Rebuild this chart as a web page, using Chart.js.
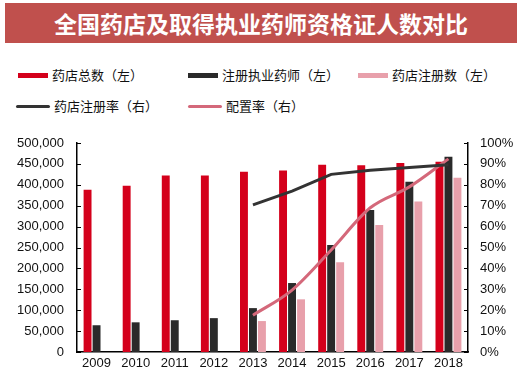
<!DOCTYPE html>
<html>
<head>
<meta charset="utf-8">
<script src="https://cdn.jsdelivr.net/npm/chart.js@4.4.1/dist/chart.umd.min.js"></script>
<style>
  body { margin: 0; width: 531px; height: 388px; background: #fff; position: relative; overflow: hidden; }
  #title {
    position: absolute; left: 5px; top: 3px; width: 512px; height: 40px;
    background: #c0504d; color: #fff; text-align: center; line-height: 40px;
    font-family: "Noto Sans CJK SC", sans-serif; font-weight: bold; font-size: 23px;
  }
  .item { position: absolute; font-family: "Noto Sans CJK SC", sans-serif; font-size: 13px; color: #111; line-height: 16px; }
  .sw { position: absolute; }
  canvas { position: absolute; left: 0; top: 0; }
</style>
</head>
<body>
<div id="title">全国药店及取得执业药师资格证人数对比</div>
<div id="legend"></div>
<canvas id="chart" width="531" height="388"></canvas>
<script>
const years = ["2009", "2010", "2011", "2012", "2013", "2014", "2015", "2016", "2017", "2018"];
const storeTotal = [388000, 398000, 422000, 422000, 431000, 434000, 448000, 447000, 452000, 455000];
const pharmacists = [64000, 71000, 76000, 81000, 105000, 165000, 256000, 340000, 407000, 467000];
const storeRegistered = [null, null, null, null, 74000, 126000, 215000, 304000, 360000, 417000];
const storeRegRate = [null, null, null, null, 70.4, 77, 85, 87, 88.3, 89.6];
const staffingRate = [null, null, null, null, 17.6, 29.6, 48.8, 69, 79, 92.4];

const leftTicks = [0, 50000, 100000, 150000, 200000, 250000, 300000, 350000, 400000, 450000, 500000];

const red = "#d4001b", dark = "#2a2a2a", pink = "#e8a0ab";
const darkLine = "#333333", pinkLine = "#d4687a";

// legend laid out like the original (two rows)
const legendItems = [
    { text: "药店总数（左）", color: red, kind: "bar", x: 18, y: 75 },
    { text: "注册执业药师（左）", color: dark, kind: "bar", x: 188, y: 75 },
    { text: "药店注册数（左）", color: pink, kind: "bar", x: 358, y: 75 },
    { text: "药店注册率（右）", color: darkLine, kind: "line", x: 16, y: 106 },
    { text: "配置率（右）", color: pinkLine, kind: "line", x: 188, y: 106 }
];
const legend = document.getElementById("legend");
legendItems.forEach(item => {
    const sw = document.createElement("div");
    sw.className = "sw";
    const w = item.kind === "bar" ? 30 : 34;
    const h = item.kind === "bar" ? 5 : 3;
    sw.style.left = item.x + "px";
    sw.style.top = (item.y - h / 2) + "px";
    sw.style.width = w + "px";
    sw.style.height = h + "px";
    sw.style.background = item.color;
    if (item.kind === "line") sw.style.borderRadius = "2px";
    legend.appendChild(sw);
    const label = document.createElement("div");
    label.className = "item";
    label.style.left = (item.x + w + 4) + "px";
    label.style.top = (item.y - 8) + "px";
    label.textContent = item.text;
    legend.appendChild(label);
});

// short inward tick marks on both value axes
const innerTicks = {
    id: "innerTicks",
    afterDraw(chart) {
        const ctx = chart.ctx;
        ctx.save();
        ctx.strokeStyle = "#000";
        ctx.lineWidth = 1;
        ["y", "y1"].forEach(id => {
            const s = chart.scales[id];
            const x = id === "y" ? s.right : s.left;
            const dir = id === "y" ? 1 : -1;
            s.ticks.forEach(t => {
                const py = Math.round(s.getPixelForValue(t.value)) + 0.5;
                ctx.beginPath();
                ctx.moveTo(x, py);
                ctx.lineTo(x + dir * 4, py);
                ctx.stroke();
            });
        });
        ctx.restore();
    }
};

const font = { family: "'Liberation Sans', Arial, sans-serif", size: 13 };

new Chart(document.getElementById("chart"), {
    type: "bar",
    data: {
        labels: years,
        datasets: [
            { type: "line", label: "药店注册率（右）", data: storeRegRate, yAxisID: "y1", borderColor: darkLine, borderWidth: 3, pointRadius: 0, tension: 0, order: 0 },
            { type: "line", label: "配置率（右）", data: staffingRate, yAxisID: "y1", borderColor: pinkLine, borderWidth: 3, pointRadius: 0, tension: 0.4, cubicInterpolationMode: "monotone", order: 0 },
            { label: "药店总数（左）", data: storeTotal, backgroundColor: red, yAxisID: "y", order: 1 },
            { label: "注册执业药师（左）", data: pharmacists, backgroundColor: dark, yAxisID: "y", order: 1 },
            { label: "药店注册数（左）", data: storeRegistered, backgroundColor: pink, yAxisID: "y", order: 1 }
        ]
    },
    options: {
        responsive: false,
        animation: false,
        layout: { padding: { top: 143, left: 0, right: 0, bottom: 0 } },
        datasets: { bar: { categoryPercentage: 0.69, barPercentage: 0.88 } },
        plugins: { legend: { display: false }, tooltip: { enabled: false } },
        scales: {
            x: {
                grid: { display: false, drawTicks: false },
                border: { color: "#000", width: 1.5 },
                ticks: { color: "#111", font: font, padding: 4, maxRotation: 0 },
                afterFit: s => { s.height = 36; }
            },
            y: {
                position: "left",
                min: 0, max: 500000,
                afterBuildTicks: s => { s.ticks = leftTicks.map(v => ({ value: v })); },
                grid: { display: false, drawTicks: false },
                border: { color: "#000", width: 1.5 },
                ticks: { color: "#111", font: font, padding: 13, callback: v => v.toLocaleString("en-US") },
                afterFit: s => { s.width = 77; }
            },
            y1: {
                position: "right",
                min: 0, max: 100,
                grid: { display: false, drawTicks: false },
                border: { color: "#000", width: 1.5 },
                ticks: { color: "#111", font: font, padding: 12, stepSize: 10, callback: v => v + "%" },
                afterFit: s => { s.width = 63; }
            }
        }
    },
    plugins: [innerTicks]
});
</script>
</body>
</html>
